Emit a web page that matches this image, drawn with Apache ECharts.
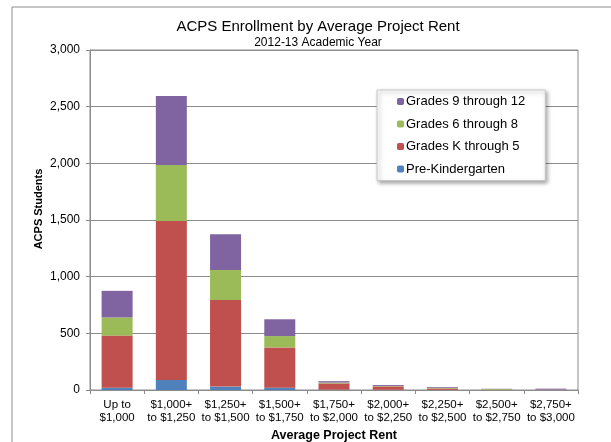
<!DOCTYPE html>
<html>
<head>
<meta charset="utf-8">
<script src="https://cdn.jsdelivr.net/npm/echarts@6/dist/echarts.min.js"></script>
<style>
  html, body { margin: 0; padding: 0; background: #fff; }
  #chart { width: 611px; height: 442px; }
</style>
</head>
<body>
<div id="chart"></div>
<script>
// rent brackets (x axis)
const categories = [
  'Up to\n$1,000', '$1,000+\nto $1,250', '$1,250+\nto $1,500', '$1,500+\nto $1,750',
  '$1,750+\nto $2,000', '$2,000+\nto $2,250', '$2,250+\nto $2,500', '$2,500+\nto $2,750',
  '$2,750+\nto $3,000'
];

// students per grade band
const preK      = [20, 88, 30, 20, 3, 2, 1, 0, 0];
const gradesK5  = [460, 1403, 764, 356, 55, 30, 12, 3, 2];
const grades68  = [160, 494, 265, 100, 8, 4, 6, 6, 2];
const grades912 = [235, 609, 315, 148, 12, 8, 7, 2, 8];

const chart = echarts.init(document.getElementById('chart'));

const font = 'Liberation Sans, Arial, sans-serif';

const bar = (name, data, color) => ({
  name,
  type: 'bar',
  stack: 'total',
  data,
  barWidth: 31,
  itemStyle: { color },
  emphasis: { disabled: true }
});

chart.setOption({
  animation: false,
  textStyle: { fontFamily: font },
  title: {
    text: 'ACPS Enrollment by Average Project Rent',
    subtext: '2012-13 Academic Year',
    left: 313,
    textAlign: 'center',
    top: 14,
    itemGap: 3,
    textStyle: { fontSize: 15, fontWeight: 'normal', color: '#000', fontFamily: font },
    subtextStyle: { fontSize: 12, color: '#000', fontFamily: font }
  },
  graphic: [{
    type: 'rect',
    shape: { x: 12, y: 7, width: 700, height: 500 },
    style: { fill: 'none', stroke: '#8c8c8c', lineWidth: 1 },
    silent: true
  }],
  legend: {
    orient: 'vertical',
    left: 377,
    top: 90,
    data: ['Grades 9 through 12', 'Grades 6 through 8', 'Grades K through 5', 'Pre-Kindergarten'],
    itemWidth: 7,
    itemHeight: 7,
    itemGap: 7.5,
    padding: [4, 20, 4, 20],
    backgroundColor: '#fff',
    borderColor: '#c8c8c8',
    borderWidth: 1,
    shadowColor: 'rgba(0,0,0,0.35)',
    shadowBlur: 4,
    shadowOffsetX: 2,
    shadowOffsetY: 2,
    textStyle: { fontSize: 13, lineHeight: 15, color: '#000', fontFamily: font, padding: [0, 0, 0, -3] }
  },
  grid: {
    left: 90, right: 33, top: 50, bottom: 52,
    outerBoundsMode: 'none',
    show: true, borderColor: '#8c8c8c', borderWidth: 1
  },
  xAxis: {
    type: 'category',
    data: categories,
    name: 'Average Project Rent',
    nameLocation: 'middle',
    nameGap: 38,
    nameTextStyle: { fontSize: 12.5, fontWeight: 'bold', color: '#000', fontFamily: font },
    axisLine: { lineStyle: { color: '#8c8c8c' } },
    axisTick: { show: true, length: 4, lineStyle: { color: '#8c8c8c' } },
    axisLabel: { fontSize: 11.5, color: '#000', lineHeight: 13, margin: 8, interval: 0, fontFamily: font }
  },
  yAxis: {
    type: 'value',
    min: 0,
    max: 3000,
    interval: 500,
    name: 'ACPS Students',
    nameLocation: 'middle',
    nameGap: 46,
    nameMoveOverlap: false,
    nameTextStyle: { fontSize: 11, fontWeight: 'bold', color: '#000', fontFamily: font, padding: [0, 0, 0, 22] },
    axisLine: { show: true, lineStyle: { color: '#8c8c8c' } },
    axisTick: { show: true, length: 4, lineStyle: { color: '#8c8c8c' } },
    splitLine: { lineStyle: { color: '#8c8c8c' } },
    axisLabel: {
      fontSize: 12, color: '#000', margin: 10, fontFamily: font,
      formatter: v => v.toLocaleString('en-US')
    }
  },
  series: [
    bar('Pre-Kindergarten', preK, '#4F81BD'),
    bar('Grades K through 5', gradesK5, '#C0504D'),
    bar('Grades 6 through 8', grades68, '#9BBB59'),
    bar('Grades 9 through 12', grades912, '#8064A2')
  ]
});
</script>
</body>
</html>
